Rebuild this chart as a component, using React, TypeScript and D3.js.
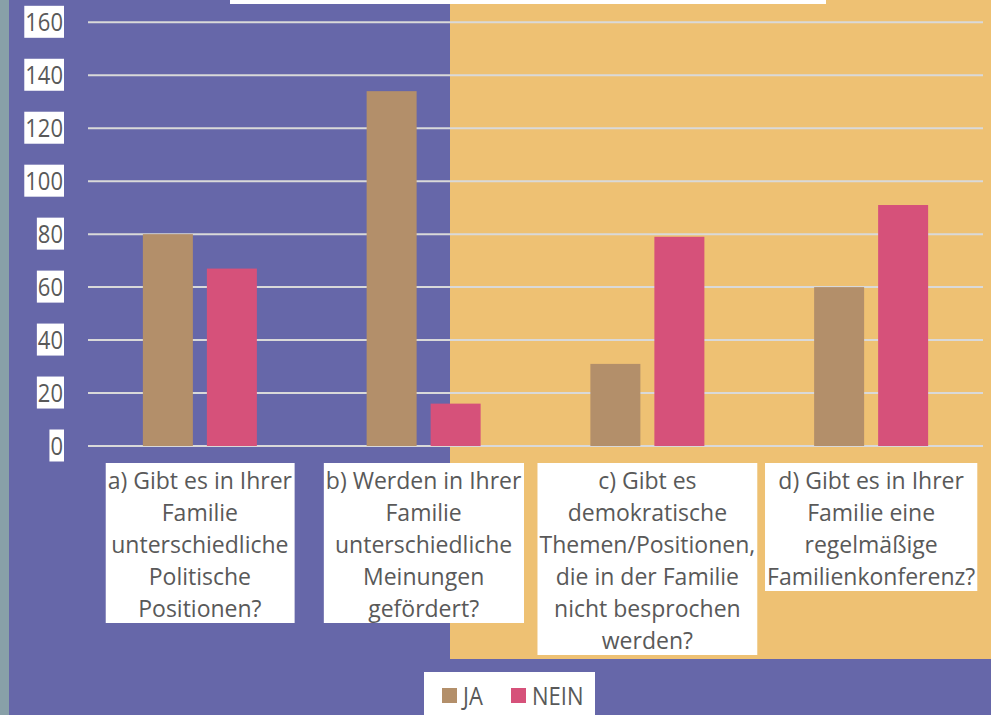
import React, { useEffect, useRef } from "react";
import * as d3 from "d3";

const categories = ["a", "b", "c", "d"];
const categoryLines: string[][] = [
  ["a) Gibt es in Ihrer", "Familie", "unterschiedliche", "Politische", "Positionen?"],
  ["b) Werden in Ihrer", "Familie", "unterschiedliche", "Meinungen", "gefördert?"],
  ["c) Gibt es", "demokratische", "Themen/Positionen,", "die in der Familie", "nicht besprochen", "werden?"],
  ["d) Gibt es in Ihrer", "Familie eine", "regelmäßige", "Familienkonferenz?"],
];
const seriesNames = ["JA", "NEIN"];
const jaValues = [80, 134, 31, 60];
const neinValues = [67, 16, 79, 91];
const yTicks = [0, 20, 40, 60, 80, 100, 120, 140, 160];
const colors = ["#B38F6A", "#D6517A"];

const W = 991;
const H = 715;
const FONT = "'Open Sans', 'Noto Sans', sans-serif";
const TEXT = "#595959";

export default function App() {
  const ref = useRef<SVGSVGElement | null>(null);

  useEffect(() => {
    const svg = d3.select(ref.current);
    svg.selectAll("*").remove();

    // backgrounds
    svg.append("rect").attr("x", 0).attr("y", 0).attr("width", W).attr("height", H).attr("fill", "#88A0A8");
    svg.append("rect").attr("x", 9).attr("y", 0).attr("width", W - 9).attr("height", H).attr("fill", "#6667A9");
    svg.append("rect").attr("x", 450).attr("y", 0).attr("width", W - 450).attr("height", 659).attr("fill", "#EEC173");
    svg.append("rect").attr("x", 230).attr("y", 0).attr("width", 596).attr("height", 4).attr("fill", "#ffffff");

    const y = d3.scaleLinear().domain([0, 160]).range([446, 22.3]);
    const x0 = d3.scaleBand<string>().domain(categories).range([88, 983]);
    const bw = x0.bandwidth();

    // gridlines
    svg.append("g").selectAll("line").data(yTicks).join("line")
      .attr("x1", 88).attr("x2", 983)
      .attr("y1", (d) => y(d)).attr("y2", (d) => y(d))
      .attr("stroke", "#D9D9D9").attr("stroke-width", 2);

    // y tick labels with white boxes
    const yl = svg.append("g");
    yTicks.forEach((t) => {
      const g = yl.append("g");
      const rect = g.append("rect").attr("fill", "#ffffff");
      const txt = g.append("text")
        .attr("transform", `translate(63,${y(t)}) scale(1,1.15)`)
        .attr("dy", "0.36em")
        .attr("text-anchor", "end")
        .attr("font-family", FONT).attr("font-size", 22).attr("fill", TEXT)
        .text(String(t));
      const bb = (txt.node() as SVGTextElement).getBBox();
      rect.attr("x", 63 + bb.x - 1).attr("y", y(t) - 16.5).attr("width", bb.width + 2).attr("height", 32);
    });

    // bars
    const series = [jaValues, neinValues];
    categories.forEach((c, i) => {
      const cx = (x0(c) as number) + bw / 2;
      const x1 = d3.scaleBand<string>().domain(seriesNames).range([cx - 57, cx + 57]).paddingInner(14 / 64);
      seriesNames.forEach((s, j) => {
        const v = series[j][i];
        svg.append("rect")
          .attr("x", x1(s) as number).attr("y", y(v))
          .attr("width", x1.bandwidth()).attr("height", y(0) - y(v))
          .attr("fill", colors[j]);
      });
    });

    // category labels
    categories.forEach((c, i) => {
      const cx = (x0(c) as number) + bw / 2;
      const g = svg.append("g");
      const rect = g.append("rect").attr("fill", "#ffffff");
      const txt = g.append("text")
        .attr("text-anchor", "middle")
        .attr("font-family", FONT).attr("font-size", 23).attr("fill", TEXT);
      categoryLines[i].forEach((line, k) => {
        txt.append("tspan").attr("x", cx).attr("y", 489 + k * 32).text(line);
      });
      const bb = (txt.node() as SVGTextElement).getBBox();
      const n = categoryLines[i].length;
      rect.attr("x", bb.x - 2).attr("y", 463).attr("width", bb.width + 4).attr("height", n * 32);
    });

    // legend
    const lg = svg.append("g");
    lg.append("rect").attr("x", 424).attr("y", 672).attr("width", 171).attr("height", 43).attr("fill", "#ffffff");
    const lx = [442, 511];
    seriesNames.forEach((s, j) => {
      lg.append("rect").attr("x", lx[j]).attr("y", 688).attr("width", 15).attr("height", 15).attr("fill", colors[j]);
      lg.append("text")
        .attr("transform", `translate(${lx[j] + 21},${695.5}) scale(1,1.15)`)
        .attr("dy", "0.36em")
        .attr("font-family", FONT).attr("font-size", 22).attr("fill", TEXT).text(s);
    });
  }, []);

  return (
    <svg
      ref={ref}
      width={W}
      height={H}
      style={{ position: "fixed", left: 0, top: 0, display: "block" }}
    />
  );
}
